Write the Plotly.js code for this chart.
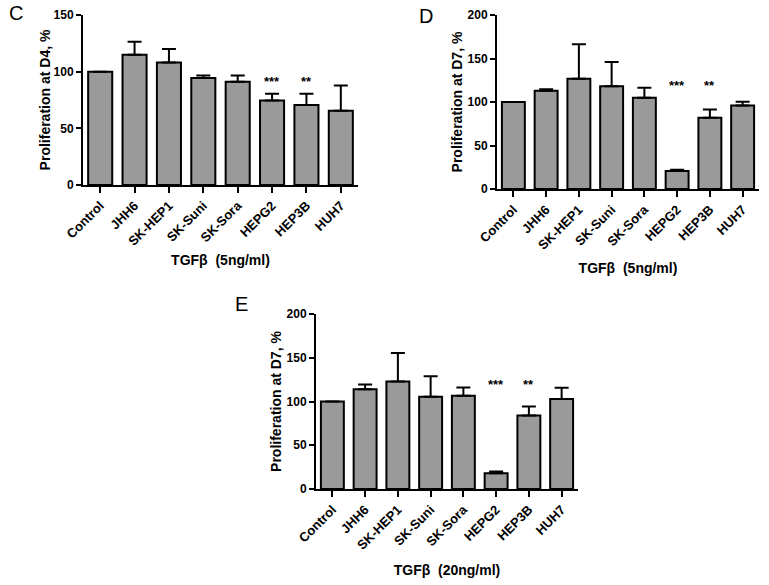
<!DOCTYPE html>
<html>
<head>
<meta charset="utf-8">
<script src="https://cdn.plot.ly/plotly-3.0.1.min.js"></script>
<style>html,body{margin:0;padding:0;background:#fff;}#chart{width:769px;height:585px;}</style>
</head>
<body>
<div id="chart"></div>
<script>
const categories = ['Control','JHH6','SK-HEP1','SK-Suni','SK-Sora','HEPG2','HEP3B','HUH7'];

const valuesC = [100, 115, 108, 94.5, 91, 74.5, 70.5, 65.5];
const errorsC = [0, 11.4, 12, 2.2, 5.7, 6.1, 10, 22.2];

const valuesD = [100, 113, 126.6, 118.2, 104.8, 20.6, 81.8, 96];
const errorsD = [0, 1.7, 39.7, 27.9, 11.5, 1.6, 9.6, 4.2];

const valuesE = [100, 114, 123, 105.5, 106.5, 18, 84, 102.8];
const errorsE = [0, 5.5, 32.5, 23.5, 9.5, 2, 10.3, 13];

const starCats = ['HEPG2', 'HEP3B'];
const starText = ['***', '**'];
const starYC = 91, starYD = 119, starYE = 120;

const panelLetters = ['C', 'D', 'E'];
const yTitles = ['Proliferation at D4, %', 'Proliferation at D7, %', 'Proliferation at D7, %'];
const xTitles = ['TGFβ  (5ng/ml)', 'TGFβ  (5ng/ml)', 'TGFβ  (20ng/ml)'];

const FONT = 'Liberation Sans, Arial, sans-serif';
const W = 769, H = 585;

function barTrace(vals, errs, xa, ya) {
  return {
    type: 'bar', x: categories, y: vals, xaxis: xa, yaxis: ya,
    marker: {color: '#9a9a9a', line: {color: '#000', width: 2}},
    error_y: {type: 'data', symmetric: false, array: errs, arrayminus: errs.map(() => 0),
      color: '#000', thickness: 2, width: 7},
    showlegend: false, hoverinfo: 'x+y'
  };
}

function xAxis(px0, px1, anchor, titleText, standoff) {
  return {
    domain: [px0 / W, px1 / W], anchor: anchor, type: 'category',
    range: [-0.5, 7.5], showline: true, linecolor: '#000', linewidth: 2,
    ticks: 'outside', ticklen: 6, tickwidth: 2, tickcolor: '#000',
    tickangle: -45, showgrid: false, zeroline: false,
    tickfont: {family: FONT, size: 13, color: '#000', weight: 'bold'},
    title: {text: titleText, font: {family: FONT, size: 14, color: '#000', weight: 'bold'}, standoff: standoff},
    automargin: false
  };
}

function yAxis(py0, py1, anchor, maxV, titleText, standoff) {
  return {
    domain: [1 - py1 / H, 1 - py0 / H], anchor: anchor,
    range: [0, maxV], tickvals: maxV === 150 ? [0, 50, 100, 150] : [0, 50, 100, 150, 200],
    showline: true, linecolor: '#000', linewidth: 2,
    ticks: 'outside', ticklen: 5, tickwidth: 2, tickcolor: '#000',
    showgrid: false, zeroline: false,
    tickfont: {family: FONT, size: 12, color: '#000', weight: 'bold'},
    title: {text: titleText, font: {family: FONT, size: 14, color: '#000', weight: 'bold'}, standoff: standoff},
    automargin: false
  };
}

const data = [
  barTrace(valuesC, errorsC, 'x', 'y'),
  barTrace(valuesD, errorsD, 'x2', 'y2'),
  barTrace(valuesE, errorsE, 'x3', 'y3')
];

const annotations = [];
const starYs = [starYC, starYD, starYE];
const refs = [['x', 'y'], ['x2', 'y2'], ['x3', 'y3']];
for (let p = 0; p < 3; p++) {
  for (let i = 0; i < starCats.length; i++) {
    annotations.push({
      x: starCats[i], y: starYs[p], xref: refs[p][0], yref: refs[p][1],
      text: starText[i], showarrow: false, yanchor: 'middle',
      font: {family: FONT, size: 13, color: '#000', weight: 'bold'}
    });
  }
}
const letterPos = [[7, 13], [417, 16], [233, 304]];
for (let p = 0; p < 3; p++) {
  annotations.push({
    x: letterPos[p][0] / W, y: 1 - letterPos[p][1] / H, xref: 'paper', yref: 'paper',
    xanchor: 'left', yanchor: 'middle', showarrow: false, text: panelLetters[p],
    font: {family: FONT, size: 20, color: '#000'}
  });
}

const layout = {
  width: W, height: H, margin: {l: 0, r: 0, t: 0, b: 0},
  paper_bgcolor: '#fff', plot_bgcolor: '#fff', bargap: 0.3,
  xaxis: xAxis(83, 358, 'y', xTitles[0], 8),
  yaxis: yAxis(15, 185, 'x', 150, yTitles[0], 0),
  xaxis2: xAxis(497, 759, 'y2', xTitles[1], 12),
  yaxis2: yAxis(15, 189, 'x2', 200, yTitles[1], 2),
  xaxis3: xAxis(316, 578, 'y3', xTitles[2], 14),
  yaxis3: yAxis(314, 489, 'x3', 200, yTitles[2], 2),
  annotations: annotations
};

Plotly.newPlot('chart', data, layout, {displayModeBar: false, staticPlot: true});
</script>
</body>
</html>
